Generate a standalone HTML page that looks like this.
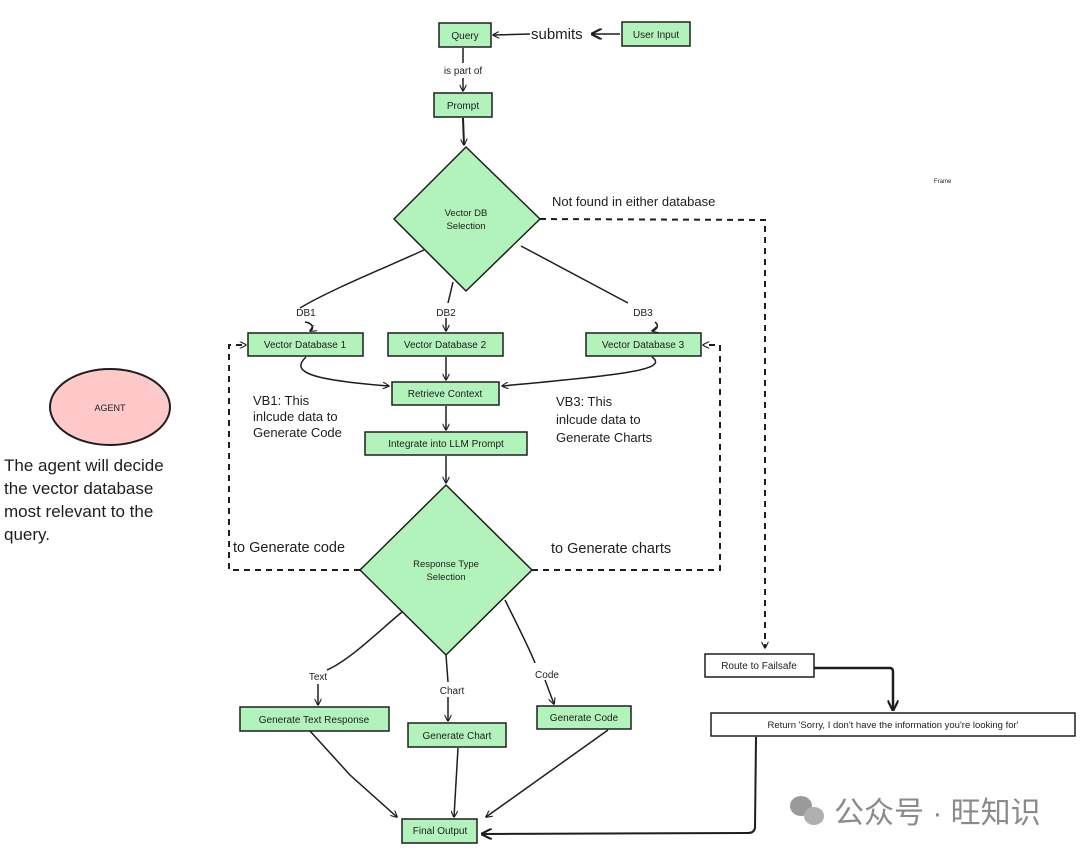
<!DOCTYPE html>
<html><head><meta charset="utf-8"><style>
html,body{margin:0;padding:0;background:#fff;}
svg{display:block;}
text{font-family:"Liberation Sans","Noto Sans CJK SC",sans-serif;fill:#1e1e1e;}
</style></head><body>
<svg width="1080" height="854" viewBox="0 0 1080 854" xmlns="http://www.w3.org/2000/svg">
<defs>
<marker id="a" viewBox="0 0 10 10" refX="9" refY="5" markerWidth="7" markerHeight="7" orient="auto-start-reverse" markerUnits="userSpaceOnUse"><path d="M0,0 L10,5 L0,10" fill="none" stroke="#1e1e1e" stroke-width="1.6"/></marker>
<marker id="b" viewBox="0 0 10 10" refX="9" refY="5" markerWidth="11" markerHeight="11" orient="auto-start-reverse" markerUnits="userSpaceOnUse"><path d="M0,0 L10,5 L0,10" fill="none" stroke="#1e1e1e" stroke-width="2"/></marker>
</defs>
<g fill="#b2f2bb" stroke="#1e1e1e" stroke-width="1.5">
<rect x="439" y="23" width="52" height="24"/>
<rect x="622" y="22" width="68" height="24"/>
<rect x="434" y="93" width="58" height="24"/>
<polygon points="466,147 540,219 466,291 394,219"/>
<rect x="248" y="333" width="115" height="23"/>
<rect x="388" y="333" width="115" height="23"/>
<rect x="586" y="333" width="115" height="23"/>
<rect x="392" y="382" width="107" height="23"/>
<rect x="365" y="432" width="162" height="23"/>
<polygon points="446,485 532,570 446,655 360,570"/>
<rect x="240" y="707" width="149" height="24"/>
<rect x="408" y="723" width="98" height="24"/>
<rect x="537" y="706" width="94" height="23"/>
<rect x="402" y="819" width="75" height="24"/>
</g>
<g fill="#fff" stroke="#1e1e1e" stroke-width="1.5">
<rect x="705" y="654" width="109" height="23"/>
<rect x="711" y="713" width="364" height="23"/>
</g>
<ellipse cx="110" cy="407" rx="60" ry="38" fill="#ffc9c9" stroke="#1e1e1e" stroke-width="2"/>
<g fill="none" stroke="#1e1e1e" stroke-width="1.5">
<path d="M620,34 L592,34" marker-end="url(#b)"/>
<path d="M530,34 L493,35" marker-end="url(#a)"/>
<path d="M463,48 L463,63"/>
<path d="M463,78 L463,91" marker-end="url(#a)"/>
<path d="M463,118 L464,145" stroke-width="2" marker-end="url(#a)"/>
<path d="M424,250 C380,270 330,290 300,308"/>
<path d="M453,282 L448,303"/>
<path d="M521,246 L628,303"/>
<path d="M305,322 C312,323 315,328 310,331" marker-end="url(#a)"/>
<path d="M446,318 L446,331" marker-end="url(#a)"/>
<path d="M655,322 C660,326 656,330 652,331" marker-end="url(#a)"/>
<path d="M306,357 C290,372 310,380 389,386" marker-end="url(#a)"/>
<path d="M446,357 L446,380" marker-end="url(#a)"/>
<path d="M652,357 C670,370 620,375 502,386" marker-end="url(#a)"/>
<path d="M446,406 L446,430" marker-end="url(#a)"/>
<path d="M446,456 L446,483" marker-end="url(#a)"/>
<path d="M402,612 C380,630 350,660 327,670"/>
<path d="M318,684 L318,705" marker-end="url(#a)"/>
<path d="M446,655 L448,682"/>
<path d="M448,697 L448,721" marker-end="url(#a)"/>
<path d="M505,600 C520,630 530,650 535,663"/>
<path d="M545,680 L554,704" marker-end="url(#a)"/>
<path d="M310,731 L350,775 L397,817" marker-end="url(#a)"/>
<path d="M458,748 L454,817" marker-end="url(#a)"/>
<path d="M608,730 L486,817" marker-end="url(#a)"/>
<path d="M814,668 L890,668 Q893,668 893,672 L893,710" stroke-width="2.5" marker-end="url(#b)"/>
<path d="M756,737 L755,828 Q754,833 748,833 L482,834" stroke-width="2" marker-end="url(#b)"/>
</g>
<g fill="none" stroke="#1e1e1e" stroke-width="2" stroke-dasharray="6,5">
<path d="M540,219 L765,220 L765,648" marker-end="url(#a)"/>
<path d="M360,570 L229,570 L229,345 L246,345" marker-end="url(#a)"/>
<path d="M532,570 L720,570 L720,345 L703,345" marker-end="url(#a)"/>
</g>
<g font-size="10" text-anchor="middle">
<text x="465" y="39">Query</text>
<text x="656" y="38">User Input</text>
<text x="463" y="109">Prompt</text>
<text x="466" y="216" font-size="9.5">Vector DB</text>
<text x="466" y="229" font-size="9.5">Selection</text>
<text x="305" y="348">Vector Database 1</text>
<text x="445" y="348">Vector Database 2</text>
<text x="643" y="348">Vector Database 3</text>
<text x="445" y="397">Retrieve Context</text>
<text x="446" y="447">Integrate into LLM Prompt</text>
<text x="446" y="567" font-size="9.5">Response Type</text>
<text x="446" y="580" font-size="9.5">Selection</text>
<text x="314" y="723">Generate Text Response</text>
<text x="457" y="739">Generate Chart</text>
<text x="584" y="721">Generate Code</text>
<text x="440" y="834">Final Output</text>
<text x="759" y="669">Route to Failsafe</text>
<text x="893" y="728" font-size="9.5">Return 'Sorry, I don't have the information you're looking for'</text>
<text x="110" y="411" font-size="9">AGENT</text>
<text x="463" y="74" font-size="10">is part of</text>
<text x="306" y="316">DB1</text>
<text x="446" y="316">DB2</text>
<text x="643" y="316">DB3</text>
<text x="318" y="680">Text</text>
<text x="452" y="694">Chart</text>
<text x="547" y="678">Code</text>
</g>
<text x="531" y="39" font-size="15">submits</text>
<text x="552" y="206" font-size="13">Not found in either database</text>
<text x="934" y="183" font-size="6" fill="#888">Frame</text>
<g font-size="13">
<text x="253" y="405">VB1: This</text>
<text x="253" y="421">inlcude data to</text>
<text x="253" y="437">Generate Code</text>
<text x="556" y="406">VB3: This</text>
<text x="556" y="424">inlcude data to</text>
<text x="556" y="442">Generate Charts</text>
</g>
<text x="233" y="552" font-size="14.5">to Generate code</text>
<text x="551" y="553" font-size="14.5">to Generate charts</text>
<g font-size="17">
<text x="4" y="471">The agent will decide</text>
<text x="4" y="494">the vector database</text>
<text x="4" y="517">most relevant to the</text>
<text x="4" y="540">query.</text>
</g>
<g fill="#9a9a9a">
<ellipse cx="801" cy="806" rx="11" ry="10"/>
<ellipse cx="814" cy="816" rx="10" ry="9" fill="#b0b0b0"/>
</g>
<text x="834" y="823" font-size="30" style="fill:#8a8a8a">公众号 · 旺知识</text>
</svg>
</body></html>
